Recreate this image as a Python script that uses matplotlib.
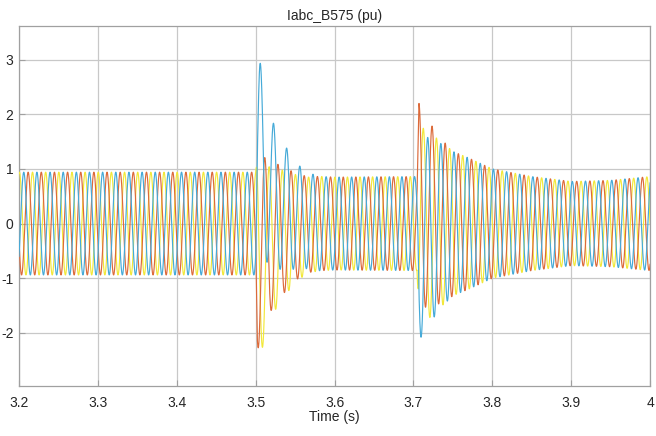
import numpy as np
import matplotlib
matplotlib.use('Agg')
from matplotlib import pyplot as plt

plt.rcParams['font.family'] = ['Liberation Sans', 'DejaVu Sans']
plt.rcParams['axes.unicode_minus'] = False

# signal description
freq = 60.0
t = np.arange(3.2, 4.0 + 1e-6, 1e-5)

# peak amplitude envelope (pu)
amp_t = [3.20, 3.500, 3.502, 3.506, 3.511, 3.520, 3.536, 3.554, 3.570, 3.60, 3.7045, 3.7068,
         3.720, 3.750, 3.770, 3.800, 3.850, 3.900, 3.950, 4.00]
amp_v = [0.94, 0.94, 1.80, 1.75, 1.60, 1.36, 1.15, 0.95, 0.87, 0.85, 0.86, 1.85,
         1.70, 1.32, 1.20, 1.00, 0.86, 0.77, 0.79, 0.86]

# decaying dc offset of each phase after the two switching events
off_t = [3.20, 3.500, 3.502, 3.505, 3.520, 3.536, 3.554, 3.580, 3.7045, 3.707, 3.720, 3.745, 4.00]
off_a = [0.0, 0.0, 1.10, 1.22, 0.55, 0.30, 0.12, 0.0, 0.0, -0.30, -0.12, 0.0, 0.0]
off_b = [0.0, 0.0, -0.48, -0.50, -0.22, -0.12, -0.05, 0.0, 0.0, 0.35, 0.15, 0.0, 0.0]
off_c = [0.0, 0.0, -0.62, -0.68, -0.33, -0.18, -0.07, 0.0, 0.0, -0.05, -0.03, 0.0, 0.0]

# time of a phase-a peak (drifts slightly between the events)
ref_t = [3.20, 3.60, 3.70, 4.00]
ref_v = [3.5060, 3.5060, 3.5014, 3.5014]

xticks = [3.2, 3.3, 3.4, 3.5, 3.6, 3.7, 3.8, 3.9, 4.0]
xlabels = ['3.2', '3.3', '3.4', '3.5', '3.6', '3.7', '3.8', '3.9', '4']
yticks = [-2, -1, 0, 1, 2, 3]

amp = np.interp(t, amp_t, amp_v)
th = 2 * np.pi * freq * (t - np.interp(t, ref_t, ref_v))
ia = amp * np.cos(th) + np.interp(t, off_t, off_a)
ib = amp * np.cos(th - 2 * np.pi / 3) + np.interp(t, off_t, off_b)
ic = amp * np.cos(th + 2 * np.pi / 3) + np.interp(t, off_t, off_c)

fig = plt.figure(figsize=(6.56, 4.36), dpi=100)
ax = fig.add_axes([0.029, 0.115, 0.962, 0.826])

ax.plot(t, ic, color='#F2E83A', lw=0.85, zorder=3)
ax.plot(t, ib, color='#DC6A3A', lw=0.85, zorder=3)
ax.plot(t, ia, color='#45AAD8', lw=0.85, zorder=3)

ax.set_xlim(3.2, 4.0)
ax.set_ylim(-2.97, 3.62)
ax.set_xticks(xticks)
ax.set_xticklabels(xlabels)
ax.set_yticks(yticks)
ax.grid(True, color='#c8c8c8', lw=0.9, zorder=0)
for s in ax.spines.values():
    s.set_color('#a0a0a0')
    s.set_linewidth(0.9)
ax.tick_params(direction='in', length=4, color='#a0a0a0', labelsize=10,
               labelcolor='#262626', pad=7)
ax.tick_params(axis='y', pad=4)

ax.set_title('Iabc_B575 (pu)', fontsize=10, color='#262626', pad=4)
ax.set_xlabel('Time (s)', fontsize=10, color='#262626', labelpad=0)

fig.savefig('out.png', dpi=100)
